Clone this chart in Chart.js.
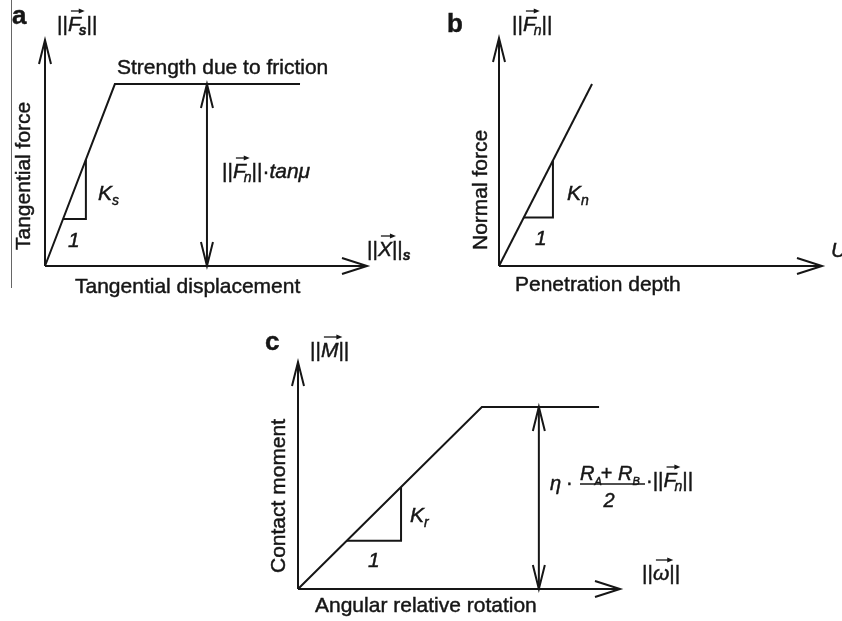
<!DOCTYPE html>
<html>
<head>
<meta charset="utf-8">
<script src="https://cdn.jsdelivr.net/npm/chart.js@4.4.1/dist/chart.umd.min.js"></script>
<style>
  html, body { margin: 0; padding: 0; background: #fff; }
  body { width: 842px; height: 621px; position: relative; overflow: hidden; }
  canvas { position: absolute; }
  #edge { position: absolute; left: 11px; top: 0; width: 0; height: 288px; border-left: 1.5px solid #666; }
</style>
</head>
<body>
<div id="edge"></div>
<canvas id="panelA" width="421" height="310" style="left:0;top:0"></canvas>
<canvas id="panelB" width="421" height="310" style="left:421px;top:0"></canvas>
<canvas id="panelC" width="460" height="311" style="left:250px;top:310px"></canvas>
<script>
const INK = '#161616';
const FACE = '"Liberation Sans", Arial, Helvetica, sans-serif';
const AXIS_MAX = 10;

// (a) tangential force vs tangential displacement
const slipDisp = [0, 2.17, 7.92];
const slipForce = [0, 8.05, 8.05];
const ksTriX = [0.56, 1.27, 1.27];
const ksTriY = [2.08, 2.08, 4.71];
const frictionArrowX = 5.03;

// (b) normal force vs penetration depth
const penDepth = [0, 2.88];
const normForce = [0, 7.98];
const knTriX = [0.77, 1.67, 1.67];
const knTriY = [2.13, 2.13, 4.63];

// (c) contact moment vs angular relative rotation
const rotAngle = [0, 5.71, 9.35];
const contactMoment = [0, 8.02, 8.02];
const krTriX = [1.52, 3.20, 3.20];
const krTriY = [2.13, 2.13, 4.49];
const momentArrowX = 7.48;

const REG = '21px ' + FACE;
const IT = 'italic 21px ' + FACE;
const BOLD = 'bold 26px ' + FACE;
const SUB = 'italic 14px ' + FACE;
const SUBB = 'italic bold 14px ' + FACE;
const REG20 = '20px ' + FACE;
const IT20 = 'italic 20px ' + FACE;
const SUB11 = 'italic 11px ' + FACE;

function pts(xs, ys) {
    return xs.map((x, i) => ({ x: x, y: ys[i] }));
}

function stroke(data) {
    return {
        data: data,
        showLine: true,
        borderColor: INK,
        borderWidth: 2,
        borderJoinStyle: 'miter',
        pointRadius: 0,
        fill: false,
        tension: 0,
        clip: false
    };
}

function axes() {
    return [
        stroke(pts([0, AXIS_MAX], [0, 0])),
        stroke(pts([0, 0], [0, AXIS_MAX]))
    ];
}

// open V arrowhead with the tip at (x, y), pointing along (dx, dy)
function head(ctx, x, y, dx, dy) {
    const len = dx !== 0 ? 25 : 24;
    const half = dx !== 0 ? 8 : 6;
    const px = -dy, py = dx;
    ctx.beginPath();
    ctx.moveTo(x - dx * len + px * half, y - dy * len + py * half);
    ctx.lineTo(x, y);
    ctx.lineTo(x - dx * len - px * half, y - dy * len - py * half);
    ctx.stroke();
}

function vecArrow(ctx, x0, x1, y) {
    ctx.save();
    ctx.lineWidth = 1.3;
    ctx.beginPath();
    ctx.moveTo(x0, y);
    ctx.lineTo(x1 - 3, y);
    ctx.stroke();
    ctx.beginPath();
    ctx.moveTo(x1 + 1, y);
    ctx.lineTo(x1 - 5, y - 2.6);
    ctx.lineTo(x1 - 5, y + 2.6);
    ctx.closePath();
    ctx.fill();
    ctx.restore();
}

// filled glyphs with a hairline outline so they read as heavy as the line work
function ink(ctx, t, x, y) {
    ctx.fillText(t, x, y);
    ctx.save();
    ctx.lineWidth = 0.45;
    ctx.strokeText(t, x, y);
    ctx.restore();
}

function text(ctx, t, x, y, font) {
    ctx.font = font;
    ink(ctx, t, x, y);
}

// a row of differently styled pieces: norms, subscripts, vector arrows
function runs(ctx, x, y, parts) {
    let cx = x;
    parts.forEach(p => {
        ctx.font = p.f;
        const w = ctx.measureText(p.t).width;
        ink(ctx, p.t, cx, y + (p.dy || 0));
        if (p.vec) vecArrow(ctx, cx + 3, cx + w + 3, y - p.vec);
        cx += w + (p.gap || 0);
    });
    return cx - x;
}

function vtext(ctx, t, x, y) {
    ctx.save();
    ctx.font = REG;
    ctx.translate(x, y);
    ctx.rotate(-Math.PI / 2);
    ink(ctx, t, 0, 0);
    ctx.restore();
}

function norm(letter, sub, subFont) {
    const parts = [{ t: '||', f: REG }, { t: letter, f: IT, vec: 20, gap: sub ? -2 : 0 }];
    if (sub) parts.push({ t: sub, f: subFont || SUB, dy: 4 });
    parts.push({ t: '||', f: REG });
    return parts;
}

function panel(id, pad, datasets, heads, decor) {
    return new Chart(document.getElementById(id), {
        type: 'scatter',
        data: { datasets: datasets },
        options: {
            responsive: false,
            animation: false,
            events: [],
            layout: { padding: pad },
            scales: {
                x: { type: 'linear', min: 0, max: AXIS_MAX, display: false },
                y: { type: 'linear', min: 0, max: AXIS_MAX, display: false }
            },
            plugins: { legend: { display: false }, tooltip: { enabled: false } }
        },
        plugins: [{
            id: 'decor',
            afterDatasetsDraw(chart) {
                const ctx = chart.ctx;
                const xs = chart.scales.x, ys = chart.scales.y;
                ctx.save();
                ctx.strokeStyle = INK;
                ctx.fillStyle = INK;
                ctx.lineWidth = 2;
                ctx.lineCap = 'butt';
                heads.forEach(h => head(ctx, xs.getPixelForValue(h[0]), ys.getPixelForValue(h[1]), h[2], h[3]));
                ctx.textBaseline = 'alphabetic';
                decor(ctx, xs.getPixelForValue(0), ys.getPixelForValue(0));
                ctx.restore();
            }
        }]
    });
}

panel('panelA', { left: 45, top: 40, right: 54, bottom: 44 },
    axes().concat([
        stroke(pts(slipDisp, slipForce)),
        stroke(pts(ksTriX, ksTriY)),
        stroke(pts([frictionArrowX, frictionArrowX], [0, slipForce[1]]))
    ]),
    [[AXIS_MAX, 0, 1, 0], [0, AXIS_MAX, 0, -1],
     [frictionArrowX, slipForce[1], 0, -1], [frictionArrowX, 0, 0, 1]],
    function (ctx, ox, oy) {
        text(ctx, 'a', ox - 33, oy - 242, BOLD);
        runs(ctx, ox + 12, oy - 235, norm('F', 's', SUBB));
        text(ctx, 'Strength due to friction', ox + 72, oy - 192, REG);
        runs(ctx, ox + 177, oy - 88, norm('F', 'n').concat([
            { t: '·', f: REG }, { t: 'tan', f: IT }, { t: 'μ', f: IT }
        ]));
        runs(ctx, ox + 53, oy - 66, [{ t: 'K', f: IT }, { t: 's', f: SUB, dy: 5 }]);
        text(ctx, '1', ox + 23, oy - 19, IT);
        runs(ctx, ox + 322, oy - 10, [
            { t: '||', f: REG }, { t: 'X', f: IT, vec: 20 }, { t: '||', f: REG }, { t: 's', f: SUBB, dy: 4 }
        ]);
        text(ctx, 'Tangential displacement', ox + 30, oy + 27, REG);
        vtext(ctx, 'Tangential force', ox - 15, oy - 16);
    });

panel('panelB', { left: 78, top: 38, right: 20, bottom: 44 },
    axes().concat([
        stroke(pts(penDepth, normForce)),
        stroke(pts(knTriX, knTriY))
    ]),
    [[AXIS_MAX, 0, 1, 0], [0, AXIS_MAX, 0, -1]],
    function (ctx, ox, oy) {
        text(ctx, 'b', ox - 52, oy - 234, BOLD);
        runs(ctx, ox + 13, oy - 235, norm('F', 'n'));
        runs(ctx, ox + 68, oy - 66, [{ t: 'K', f: IT }, { t: 'n', f: SUB, dy: 5 }]);
        text(ctx, '1', ox + 36, oy - 21, IT);
        vtext(ctx, 'Normal force', ox - 12, oy - 16);
        text(ctx, 'Penetration depth', ox + 16, oy + 25, REG);
        text(ctx, 'U', ox + 332, oy - 9, IT);
    });

panel('panelC', { left: 48, top: 52, right: 90, bottom: 32 },
    axes().concat([
        stroke(pts(rotAngle, contactMoment)),
        stroke(pts(krTriX, krTriY)),
        stroke(pts([momentArrowX, momentArrowX], [0, contactMoment[1]]))
    ]),
    [[AXIS_MAX, 0, 1, 0], [0, AXIS_MAX, 0, -1],
     [momentArrowX, contactMoment[1], 0, -1], [momentArrowX, 0, 0, 1]],
    function (ctx, ox, oy) {
        text(ctx, 'c', ox - 33, oy - 239, BOLD);
        runs(ctx, ox + 12, oy - 232, norm('M'));
        runs(ctx, ox + 112, oy - 67, [{ t: 'K', f: IT }, { t: 'r', f: SUB, dy: 5 }]);
        text(ctx, '1', ox + 70, oy - 22, IT);

        // eta * (R_A + R_B) / 2 * ||F_n||
        text(ctx, 'η', ox + 252, oy - 99, IT20);
        text(ctx, '·', ox + 268, oy - 100, REG20);
        runs(ctx, ox + 282, oy - 109, [
            { t: 'R', f: IT20 }, { t: 'A', f: SUB11, dy: 5, gap: -1 }, { t: '+ ', f: REG20 },
            { t: 'R', f: IT20 }, { t: 'B', f: SUB11, dy: 5 }
        ]);
        ctx.save();
        ctx.lineWidth = 1.6;
        ctx.beginPath();
        ctx.moveTo(ox + 282, oy - 105);
        ctx.lineTo(ox + 347, oy - 105);
        ctx.stroke();
        ctx.restore();
        ctx.textAlign = 'center';
        text(ctx, '2', ox + 311, oy - 82, IT20);
        ctx.textAlign = 'left';
        runs(ctx, ox + 348, oy - 102, [{ t: '·', f: REG20 }].concat(norm('F', 'n')));

        runs(ctx, ox + 344, oy - 9, norm('ω'));
        vtext(ctx, 'Contact moment', ox - 13, oy - 16);
        text(ctx, 'Angular relative rotation', ox + 17, oy + 23, REG);
    });
</script>
</body>
</html>
